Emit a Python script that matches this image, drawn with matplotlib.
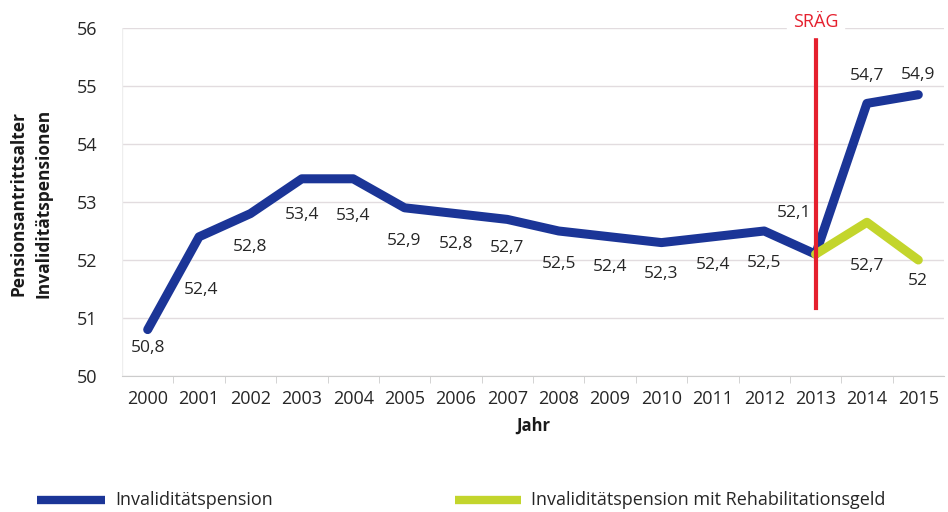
import matplotlib.pyplot as plt

# Daten
jahre = list(range(2000, 2016))
invaliditaet = [50.8, 52.4, 52.8, 53.4, 53.4, 52.9, 52.8, 52.7, 52.5, 52.4,
                52.3, 52.4, 52.5, 52.1, 54.7, 54.85]
label_inv = ["50,8", "52,4", "52,8", "53,4", "53,4", "52,9", "52,8", "52,7",
             "52,5", "52,4", "52,3", "52,4", "52,5", "52,1", "54,7", "54,9"]
jahre_reha = [2013, 2014, 2015]
reha = [52.1, 52.65, 52.0]
label_reha = ["", "52,7", "52"]
srag_jahr = 2013

# Label-Versatz in Pixel (dx, dy)
off_inv = [(0, -18), (2, -53), (0, -33), (0, -36), (0, -37), (0, -33), (0, -30),
           (0, -29), (0, -33), (0, -30), (0, -31), (0, -28), (0, -32), (-21, 41),
           (0, 27), (0, 20)]
off_reha = [(0, 0), (0, -44), (0, -21)]

blau = "#1b3597"
gruen = "#c3d52c"
rot = "#e5202e"
txt = "#262626"

plt.rcParams['font.family'] = ['Open Sans', 'DejaVu Sans']

fig = plt.figure(figsize=(9.48, 5.12), dpi=100)
ax = fig.add_axes([122/948, 1-376/512, (944-122)/948, (376-28)/512])

ax.plot(jahre, invaliditaet, color=blau, lw=6.5, solid_capstyle='round',
        solid_joinstyle='round', zorder=3)
ax.plot(jahre_reha, reha, color=gruen, lw=6.5, solid_capstyle='round',
        solid_joinstyle='round', zorder=3)
ax.plot([srag_jahr, srag_jahr], [51.17, 55.83], color=rot, lw=3, zorder=4)
ax.text(srag_jahr, 56.1, "SRÄG", color=rot, ha='center', va='center',
        fontsize=13, backgroundcolor='white', zorder=5)

for x, y, s, o in zip(jahre, invaliditaet, label_inv, off_inv):
    ax.annotate(s, (x, y), xytext=o, textcoords='offset pixels',
                ha='center', va='center', fontsize=12.5, color=txt)
for x, y, s, o in zip(jahre_reha, reha, label_reha, off_reha):
    if s:
        ax.annotate(s, (x, y), xytext=o, textcoords='offset pixels',
                    ha='center', va='center', fontsize=12.5, color=txt)

ax.set_xlim(1999.5, 2015.5)
ax.set_ylim(50, 56)
ax.set_yticks(range(50, 57))
ax.set_xticks(jahre)
ax.set_xticks([j + 0.5 for j in jahre[:-1]], minor=True)
ax.tick_params(axis='x', which='major', length=0, pad=10, labelsize=13, colors=txt)
ax.tick_params(axis='x', which='minor', length=5, color='#cccccc')
ax.tick_params(axis='y', length=0, pad=18, labelsize=13, colors=txt)
ax.grid(axis='y', color='#e2dcdf', lw=1)
for s in ['top', 'right', 'left']:
    ax.spines[s].set_visible(False)
ax.spines['bottom'].set_color('#cccccc')
ax.axvline(1999.5, color='#eeeeee', lw=1)

ax.set_xlabel("Jahr", fontsize=12, fontweight='bold', color='#1a1a1a', labelpad=6)

# y-Achsentitel in zwei Zeilen
fig.text(19/948, 1-203/512, "Pensionsantrittsalter", rotation=90, fontsize=12.5,
         fontweight='bold', color='#1a1a1a', ha='center', va='center')
fig.text(44/948, 1-203/512, "Invaliditätspensionen", rotation=90, fontsize=12.5,
         fontweight='bold', color='#1a1a1a', ha='center', va='center')

# Legende
fig.add_artist(plt.Line2D([37/948, 105/948], [1-500/512]*2, color=blau, lw=6,
                          solid_capstyle='butt'))
fig.text(115/948, 1-500/512, "Invaliditätspension", fontsize=13,
         color=txt, va='center')
fig.add_artist(plt.Line2D([455/948, 521/948], [1-500/512]*2, color=gruen, lw=6,
                          solid_capstyle='butt'))
fig.text(531/948, 1-500/512, "Invaliditätspension mit Rehabilitationsgeld",
         fontsize=13, color=txt, va='center')

fig.savefig("out.png", dpi=100)
